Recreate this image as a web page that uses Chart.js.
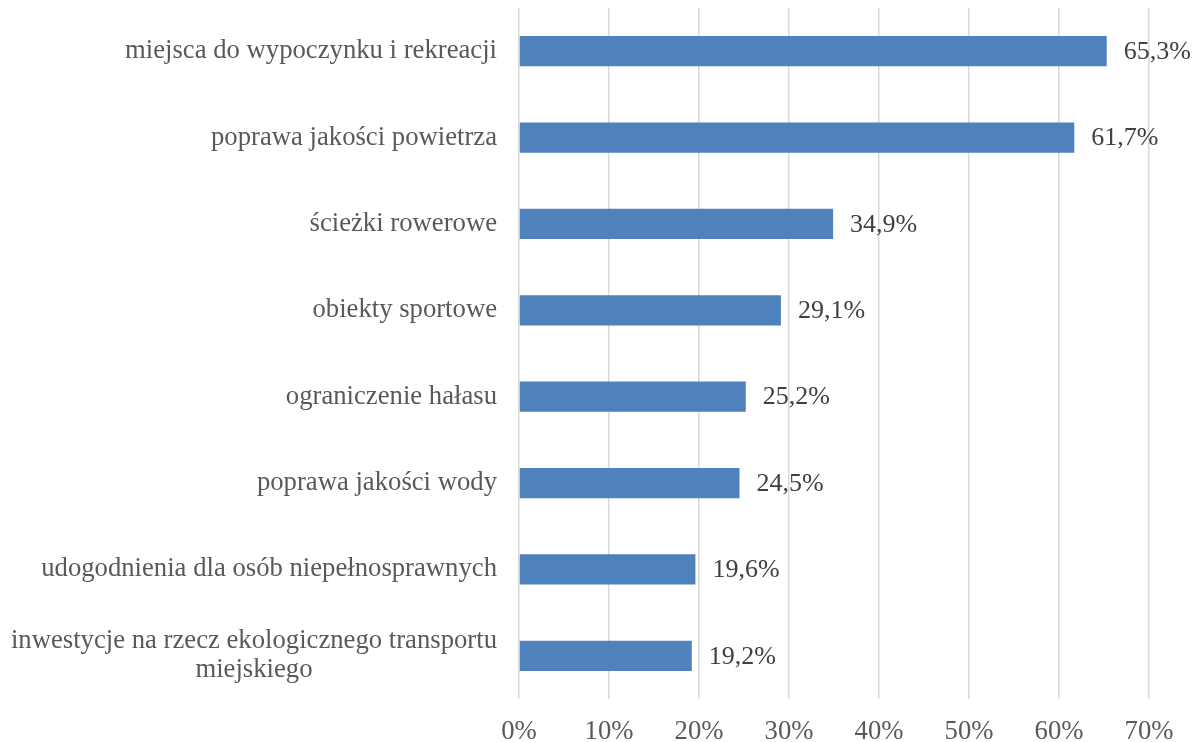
<!DOCTYPE html>
<html>
<head>
<meta charset="utf-8">
<script src="https://cdn.jsdelivr.net/npm/chart.js@4/dist/chart.umd.min.js"></script>
<style>
  html, body { margin: 0; padding: 0; background: #fff; }
  #wrap { width: 1198px; height: 742px; position: relative; }
</style>
</head>
<body>
<div id="wrap"><canvas id="chart"></canvas></div>
<script>
const categories = [
  ["miejsca do wypoczynku i rekreacji"],
  ["poprawa jakości powietrza"],
  ["ścieżki rowerowe"],
  ["obiekty sportowe"],
  ["ograniczenie hałasu"],
  ["poprawa jakości wody"],
  ["udogodnienia dla osób niepełnosprawnych"],
  ["inwestycje na rzecz ekologicznego transportu", "miejskiego"],
];
const values = [65.3, 61.7, 34.9, 29.1, 25.2, 24.5, 19.6, 19.2];
const valueLabels = ["65,3%", "61,7%", "34,9%", "29,1%", "25,2%", "24,5%", "19,6%", "19,2%"];
const xTicks = [0, 10, 20, 30, 40, 50, 60, 70];

const serif = "'Liberation Serif', 'Times New Roman', serif";

// category labels + value labels drawn next to the bars
const labelPlugin = {
  id: "labels",
  afterDatasetsDraw(chart) {
    const ctx = chart.ctx;
    const y = chart.scales.y;
    const meta = chart.getDatasetMeta(0);
    ctx.save();
    ctx.textBaseline = "middle";

    // category names, right edge a bit left of the plot
    ctx.font = "26.7px " + serif;
    ctx.fillStyle = "#595959";
    categories.forEach((lines, i) => {
      const cy = y.getPixelForValue(i);
      const lh = 29;
      const start = cy - (lines.length - 1) * lh / 2;
      const right = chart.chartArea.left - 22;
      if (lines.length === 1) {
        ctx.textAlign = "right";
        ctx.fillText(lines[0], right, cy);
      } else {
        const w = Math.max(...lines.map(l => ctx.measureText(l).width));
        ctx.textAlign = "center";
        lines.forEach((l, k) => ctx.fillText(l, right - w / 2, start + k * lh));
      }
    });

    // values at bar ends
    ctx.font = "26px " + serif;
    ctx.fillStyle = "#404040";
    ctx.textAlign = "left";
    meta.data.forEach((bar, i) => {
      ctx.fillText(valueLabels[i], bar.x + 17, bar.y + 1);
    });
    ctx.restore();
  },
};

const chart = new Chart(document.getElementById("chart").getContext("2d"), {
  type: "bar",
  data: {
    labels: categories,
    datasets: [
      {
        data: values,
        backgroundColor: "#4F81BD",
        borderWidth: 0,
        barPercentage: 0.7,
        categoryPercentage: 0.5,
      },
    ],
  },
  options: {
    indexAxis: "y",
    responsive: true,
    maintainAspectRatio: false,
    animation: false,
    layout: {
      padding: { left: 519, right: 49, top: 8, bottom: -23 },
    },
    plugins: {
      legend: { display: false },
      tooltip: { enabled: false },
    },
    scales: {
      x: {
        min: 0,
        max: 70,
        afterBuildTicks(scale) {
          scale.ticks = xTicks.map(v => ({ value: v }));
        },
        grid: { color: "#d9d9d9", lineWidth: 1.5, drawTicks: false },
        border: { display: false },
        ticks: {
          padding: 17,
          color: "#595959",
          font: { family: serif, size: 26.7 },
          callback: v => v + "%",
        },
      },
      y: {
        display: false,
      },
    },
  },
  plugins: [labelPlugin],
});
</script>
</body>
</html>
